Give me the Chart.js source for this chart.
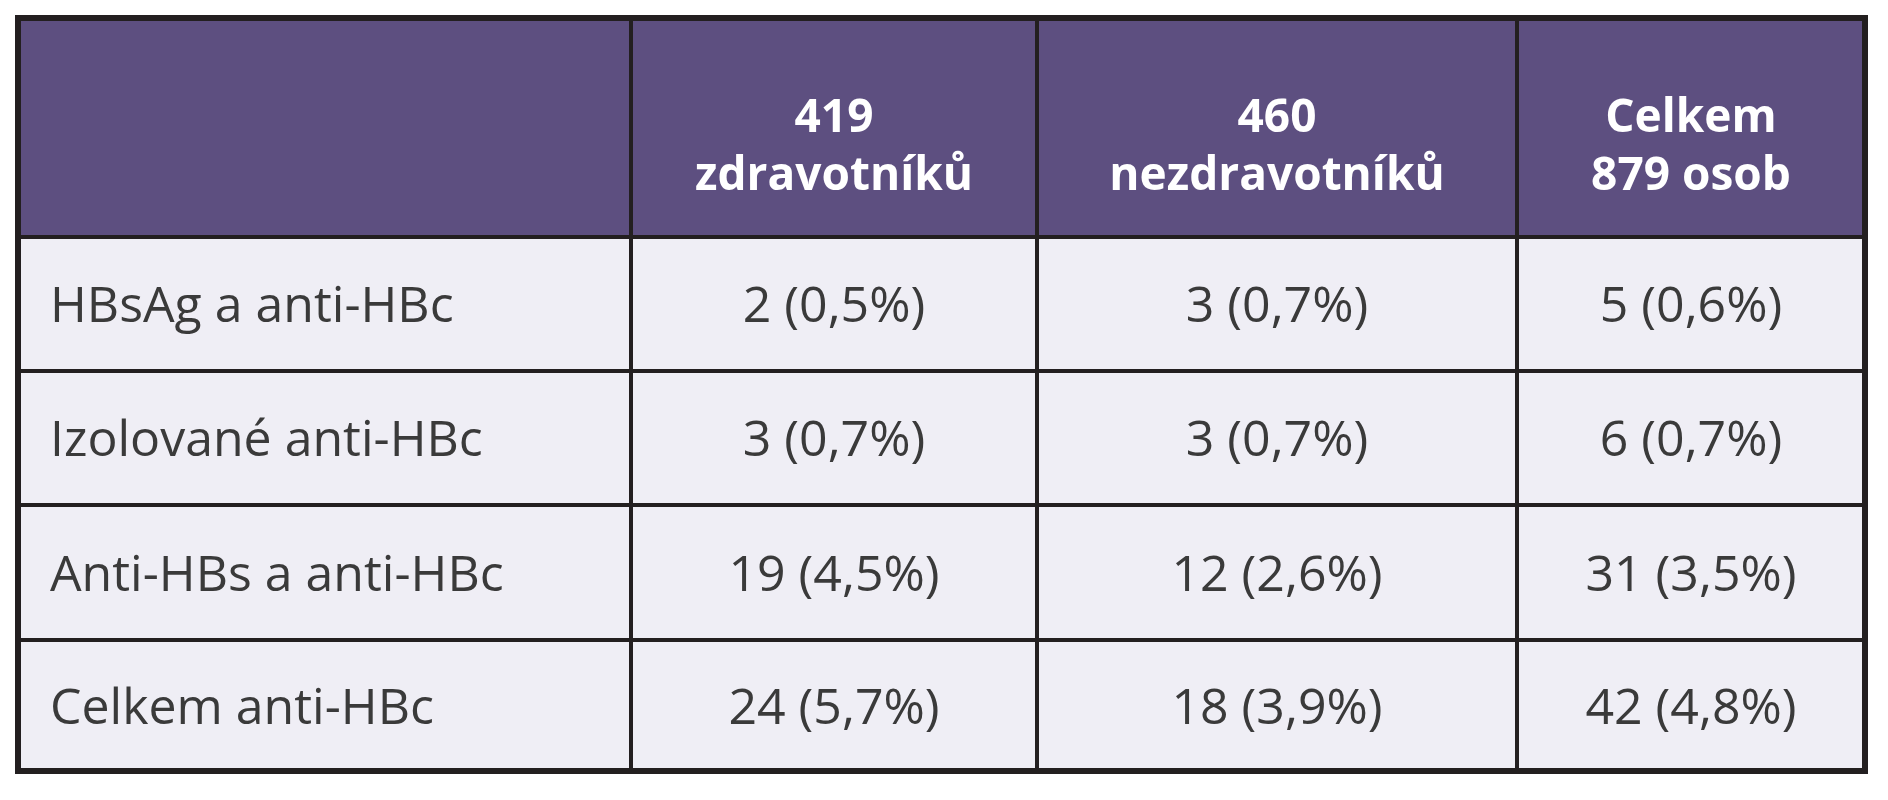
<!DOCTYPE html>
<html><head><meta charset="utf-8">
<script src="https://cdn.jsdelivr.net/npm/chart.js@4/dist/chart.umd.min.js"></script>
<style>html,body{margin:0;padding:0;background:#fff}canvas{display:block}</style>
</head><body>
<canvas id="c" width="1888" height="800"></canvas>
<script>
const headers = ["", "419\nzdravotníků", "460\nnezdravotníků", "Celkem\n879 osob"];
const rowLabels = ["HBsAg a anti-HBc", "Izolované anti-HBc", "Anti-HBs a anti-HBc", "Celkem anti-HBc"];
const zdravotnici = ["2 (0,5%)", "3 (0,7%)", "19 (4,5%)", "24 (5,7%)"];
const nezdravotnici = ["3 (0,7%)", "3 (0,7%)", "12 (2,6%)", "18 (3,9%)"];
const celkem = ["5 (0,6%)", "6 (0,7%)", "31 (3,5%)", "42 (4,8%)"];
// table grid (layout)
const colEdges = [18, 631, 1037, 1517, 1865];
const rowEdges = [18, 237, 371, 505, 640, 771];

const tablePlugin = {
  id: 'table',
  afterDatasetsDraw(chart) {
    const {ctx, scales: {x, y}} = chart;
    const X = v => x.getPixelForValue(v), Y = v => y.getPixelForValue(v);
    const body = [rowLabels, zdravotnici, nezdravotnici, celkem];
    ctx.save();
    // backgrounds
    ctx.fillStyle = '#5d4f80';
    ctx.fillRect(X(colEdges[0]), Y(rowEdges[0]), X(colEdges[4]) - X(colEdges[0]), Y(rowEdges[1]) - Y(rowEdges[0]));
    ctx.fillStyle = '#efeef5';
    ctx.fillRect(X(colEdges[0]), Y(rowEdges[1]), X(colEdges[4]) - X(colEdges[0]), Y(rowEdges[5]) - Y(rowEdges[1]));
    // grid lines
    ctx.strokeStyle = '#231f20';
    ctx.lineWidth = 4;
    rowEdges.forEach(r => { ctx.beginPath(); ctx.moveTo(X(colEdges[0]), Y(r)); ctx.lineTo(X(colEdges[4]), Y(r)); ctx.stroke(); });
    colEdges.forEach(c => { ctx.beginPath(); ctx.moveTo(X(c), Y(rowEdges[0])); ctx.lineTo(X(c), Y(rowEdges[5])); ctx.stroke(); });
    ctx.lineWidth = 6;
    ctx.strokeRect(X(colEdges[0]), Y(rowEdges[0]), X(colEdges[4]) - X(colEdges[0]), Y(rowEdges[5]) - Y(rowEdges[0]));
    // header text
    ctx.fillStyle = '#ffffff';
    ctx.font = 'bold 46px "Open Sans", sans-serif';
    ctx.textAlign = 'center'; ctx.textBaseline = 'middle';
    headers.forEach((h, i) => {
      if (!h) return;
      const cx = (X(colEdges[i]) + X(colEdges[i + 1])) / 2;
      const lines = h.split('\n');
      const cy = (Y(rowEdges[0]) + Y(rowEdges[1])) / 2 + 20;
      lines.forEach((l, k) => ctx.fillText(l, cx, cy + (k - (lines.length - 1) / 2) * 58));
    });
    // body
    ctx.fillStyle = '#3a3a3a';
    ctx.font = '50px "Open Sans", sans-serif';
    for (let r = 0; r < rowLabels.length; r++) {
      const cy = (Y(rowEdges[r + 1]) + Y(rowEdges[r + 2])) / 2 + 4;
      for (let c = 0; c < body.length; c++) {
        if (c === 0) { ctx.textAlign = 'left'; ctx.fillText(body[c][r], X(colEdges[0]) + 32, cy); }
        else { ctx.textAlign = 'center'; ctx.fillText(body[c][r], (X(colEdges[c]) + X(colEdges[c + 1])) / 2, cy); }
      }
    }
    ctx.restore();
  }
};

new Chart(document.getElementById('c'), {
  type: 'scatter',
  data: { datasets: [{ data: [], pointRadius: 0 }] },
  options: {
    responsive: false, animation: false,
    layout: { padding: 0 },
    plugins: { legend: { display: false }, tooltip: { enabled: false } },
    scales: {
      x: { type: 'linear', min: 0, max: 1888, display: false },
      y: { type: 'linear', min: 0, max: 800, reverse: true, display: false }
    }
  },
  plugins: [tablePlugin]
});
</script>
</body></html>
